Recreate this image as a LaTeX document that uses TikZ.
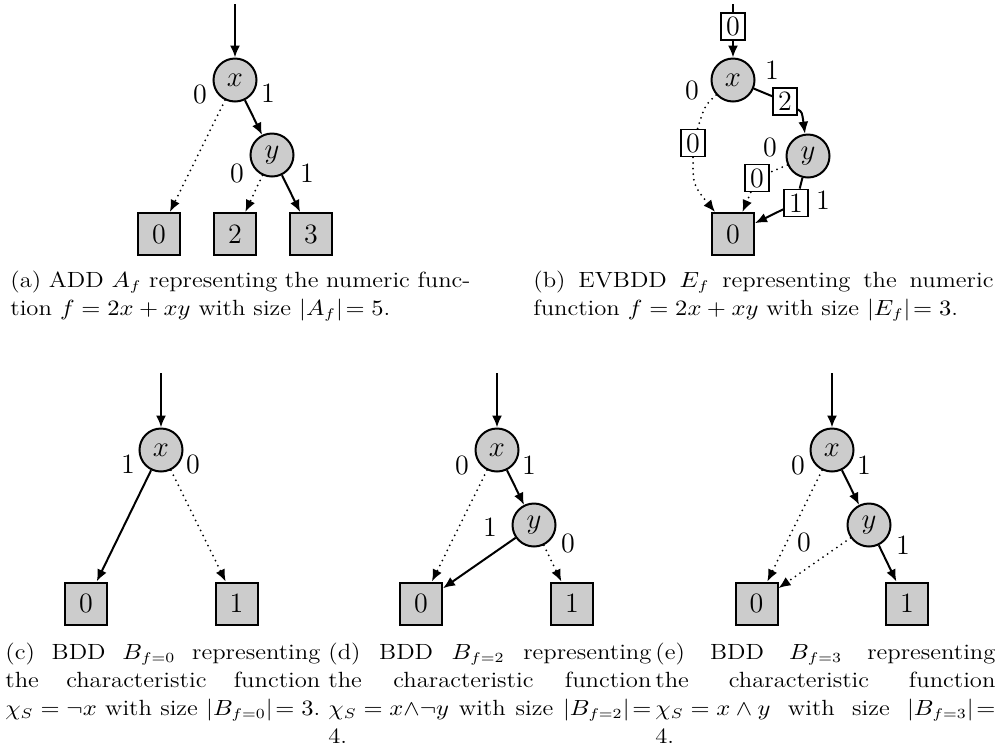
\documentclass[tikz,border=0pt]{standalone}
\usepackage{graphicx}
\usetikzlibrary{arrows.meta}
\DeclareMathSizes{11}{10.5}{7.5}{5.5}
\newcommand\capfit[2]{\scalebox{1.12}[1]{\makebox[#1][s]{#2}}}
\newcommand\capnat[1]{\scalebox{1.12}[1]{#1}}
\begin{document}
\begin{tikzpicture}[x=0.5pt,y=-0.5pt,
  every node/.style={font=\fontsize{14}{16}\selectfont},
  var/.style={circle,draw,line width=1pt,fill=black!20,minimum size=21.5pt,inner sep=0pt},
  leaf/.style={rectangle,draw,line width=1pt,fill=black!20,minimum size=21pt,inner sep=0pt},
  ev/.style={rectangle,draw,line width=0.9pt,fill=white,minimum width=12pt,minimum height=13.5pt,inner sep=0pt},
  lbl/.style={inner sep=0pt},
  solidline/.style={line width=1pt},
  dotline/.style={line width=1pt,dash pattern=on 0pt off 2.8pt,line cap=round},
  arrowtip/.style={-{Latex[length=6pt,width=5pt]}},
  hi/.style={solidline,arrowtip},
  lo/.style={dotline,arrowtip},
  captext/.style={anchor=base west,inner sep=0pt,font=\fontsize{11}{13}\selectfont}]
\useasboundingbox (0,0) rectangle (1001,751);
% ---------- (a) ADD ----------
\coordinate (atop) at (235,4);
\node[var] (ax) at (235,80) {$x$};
\node[var] (ay) at (272,155) {$y$};
\node[leaf] (a0) at (159,234) {0};
\node[leaf] (a2) at (235,234) {2};
\node[leaf] (a3) at (311,234) {3};
\draw[hi] (atop) -- (ax);
\draw[lo] (ax) -- (a0);
\draw[hi] (ax) -- (ay);
\draw[lo] (ay) -- (a2);
\draw[hi] (ay) -- (a3);
\node[lbl] (al1) at (200,94) {0};
\node[lbl] (al2) at (268,93) {1};
\node[lbl] (al3) at (237,173) {0};
\node[lbl] (al4) at (307,173) {1};
% ---------- (b) EVBDD ----------
\coordinate (btop) at (733,4);
\node[var] (bx) at (733,80) {$x$};
\node[var] (by) at (808,156) {$y$};
\node[leaf] (b0) at (733,234) {0};
\node[ev] (be0) at (733,26.5) {0};
\node[ev] (be1) at (693,143) {0};
\node[ev] (be2) at (785,101.5) {2};
\node[ev] (be3) at (757,178) {0};
\node[ev] (be4) at (796,203) {1};
\draw[solidline] (btop) -- (be0);
\draw[hi] (be0) -- (bx);
\draw[solidline] (bx) -- (be2);
\draw[hi] (be2) .. controls (802,112) .. (by);
\draw[dotline] (bx) .. controls (705,105) .. (be1);
\draw[lo] (be1) .. controls (693,185) .. (b0);
\draw[dotline] (by) -- (be3);
\draw[lo] (be3) -- (b0);
\draw[solidline] (by) -- (be4);
\draw[hi] (be4) -- (b0);
\node[lbl] (bl1) at (692,90) {0};
\node[lbl] (bl2) at (772,70) {1};
\node[lbl] (bl3) at (770,147) {0};
\node[lbl] (bl4) at (823,200) {1};
% ---------- (c) BDD f=0 ----------
\coordinate (ctop) at (161,373);
\node[var] (cx) at (161,450) {$x$};
\node[leaf] (c0) at (86,603.5) {0};
\node[leaf] (c1) at (236.5,603.5) {1};
\draw[hi] (ctop) -- (cx);
\draw[hi] (cx) -- (c0);
\draw[lo] (cx) -- (c1);
\node[lbl] (cl1) at (128,464) {1};
\node[lbl] (cl2) at (193,464) {0};
% ---------- (d) BDD f=2 ----------
\coordinate (dtop) at (497,373);
\node[var] (dx) at (497,450) {$x$};
\node[var] (dy) at (534,525) {$y$};
\node[leaf] (d0) at (421,603.5) {0};
\node[leaf] (d1) at (572,603.5) {1};
\draw[hi] (dtop) -- (dx);
\draw[lo] (dx) -- (d0);
\draw[hi] (dx) -- (dy);
\draw[hi] (dy) -- (d0);
\draw[lo] (dy) -- (d1);
\node[lbl] (dl1) at (462,465) {0};
\node[lbl] (dl2) at (529,465) {1};
\node[lbl] (dl3) at (490,527) {1};
\node[lbl] (dl4) at (568,543) {0};
% ---------- (e) BDD f=3 ----------
\coordinate (etop) at (832,373);
\node[var] (ex) at (832,450) {$x$};
\node[var] (ey) at (869,525) {$y$};
\node[leaf] (e0) at (756.5,603.5) {0};
\node[leaf] (e1) at (907,603.5) {1};
\draw[hi] (etop) -- (ex);
\draw[lo] (ex) -- (e0);
\draw[hi] (ex) -- (ey);
\draw[lo] (ey) -- (e0);
\draw[hi] (ey) -- (e1);
\node[lbl] (el1) at (798,465) {0};
\node[lbl] (el2) at (864,465) {1};
\node[lbl] (el3) at (804,542) {0};
\node[lbl] (el4) at (903,545) {1};
% ---------- captions ----------
\node[captext] (capa1) at (10,287) {\capfit{205.4pt}{(a) ADD \mbox{$A_f$} representing the numeric func-}};
\node[captext] (capa2) at (10,315) {\capnat{tion $f = 2x + xy$ with size $|A_f|\!= 5$.}};
\node[captext] (capb1) at (533,287) {\capfit{205.4pt}{(b) EVBDD \mbox{$E_f$} representing the numeric}};
\node[captext] (capb2) at (533,315) {\capnat{function $f = 2x + xy$ with size $|E_f|\!= 3$.}};
\node[captext] (capc1) at (5,659) {\capfit{140.6pt}{(c) BDD \mbox{$B_{f=0}$} representing}};
\node[captext] (capc2) at (5,687) {\capfit{140.6pt}{the characteristic function}};
\node[captext] (capc3) at (5,715) {\capfit{140.6pt}{\mbox{$\chi_S = \neg x$} with size \mbox{$|B_{f=0}|\!= 3$.}}};
\node[captext] (capd1) at (328,659) {\capfit{144.2pt}{(d) BDD \mbox{$B_{f=2}$} representing}};
\node[captext] (capd2) at (328,687) {\capfit{144.2pt}{the characteristic function}};
\node[captext] (capd3) at (328,715) {\capfit{144.2pt}{\mbox{$\chi_S = x{\wedge}{\neg}y$} with size \mbox{$|B_{f=2}|\!=$}}};
\node[captext] (capd4) at (328,743) {\capnat{4.}};
\node[captext] (cape1) at (655,659) {\capfit{151.8pt}{(e) BDD \mbox{$B_{f=3}$} representing}};
\node[captext] (cape2) at (655,687) {\capfit{151.8pt}{the characteristic function}};
\node[captext] (cape3) at (655,715) {\capfit{151.8pt}{\mbox{$\chi_S = x \wedge y$} with size \mbox{$|B_{f=3}|\!=$}}};
\node[captext] (cape4) at (655,743) {\capnat{4.}};
\end{tikzpicture}
\end{document}
